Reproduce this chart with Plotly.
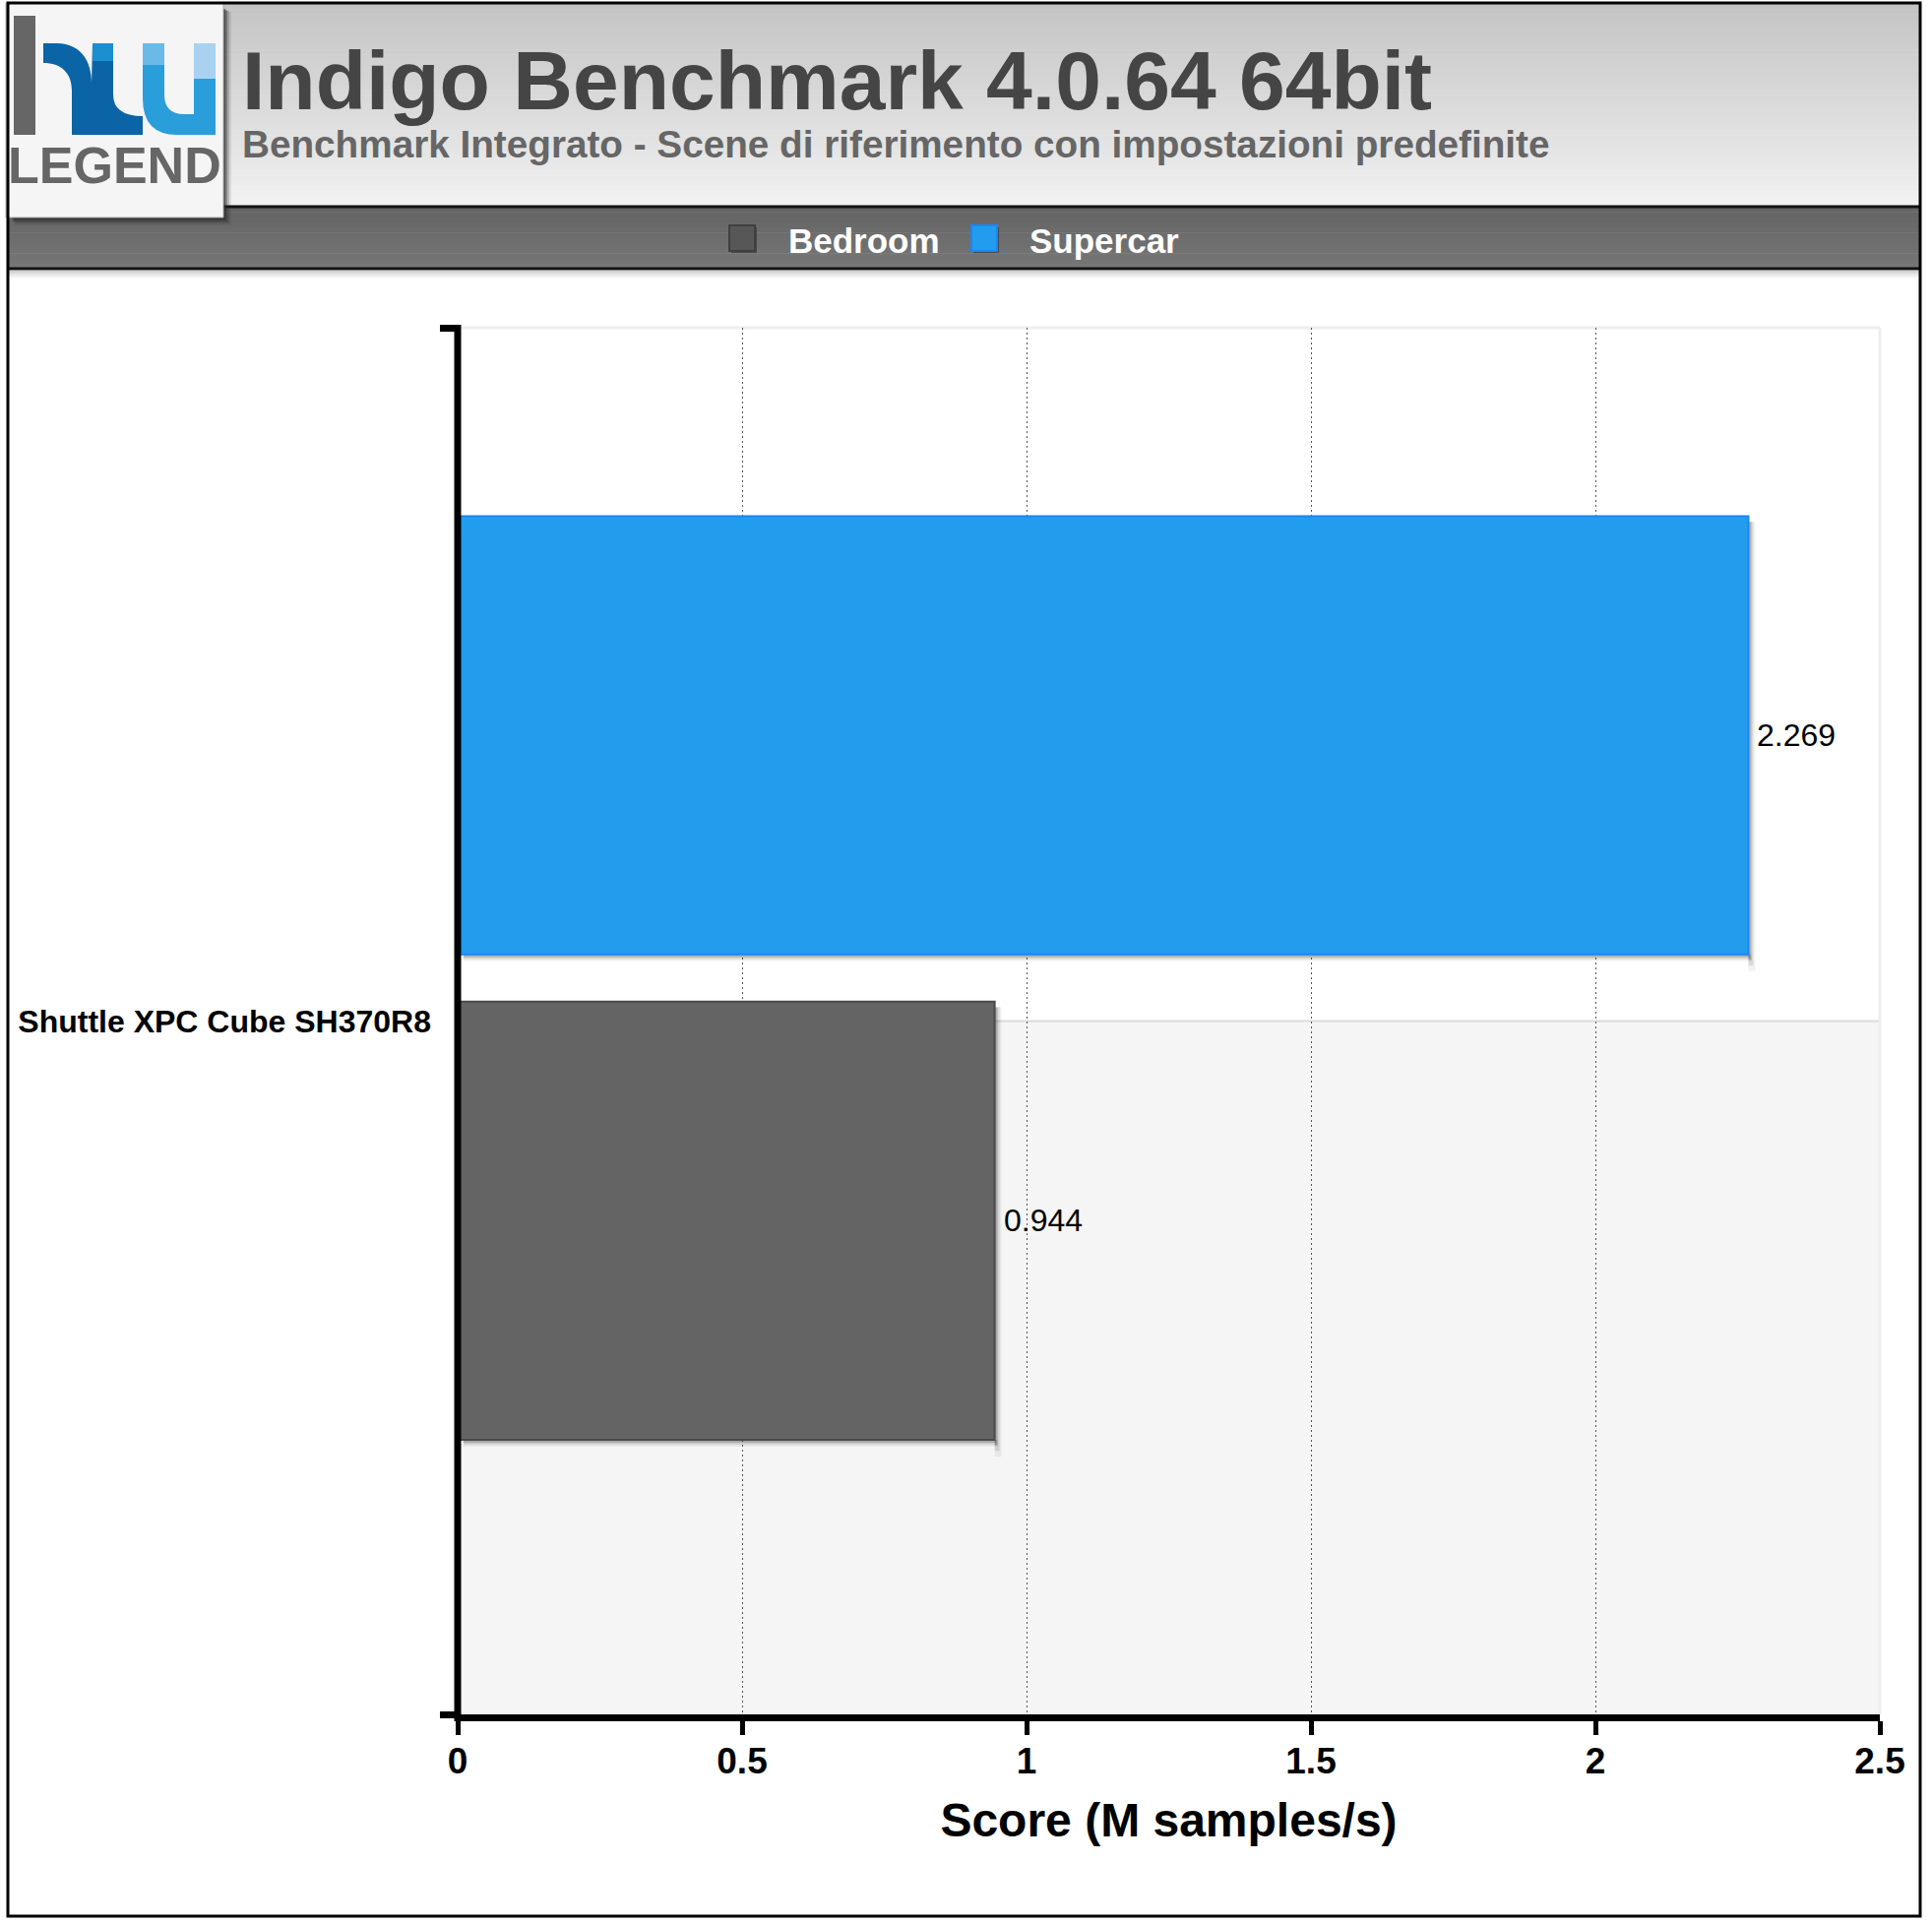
import plotly.graph_objects as go

# ---------------- data ----------------
CATEGORIES = ["Shuttle XPC Cube SH370R8"]
SERIES = ["Bedroom", "Supercar"]
BEDROOM = [0.944]
SUPERCAR = [2.269]
X_TICKS = [0, 0.5, 1, 1.5, 2, 2.5]
X_TICK_LABELS = ["0", "0.5", "1", "1.5", "2", "2.5"]
TITLE = "Indigo Benchmark 4.0.64 64bit"
SUBTITLE = "Benchmark Integrato - Scene di riferimento con impostazioni predefinite"
X_TITLE = "Score (M samples/s)"

# ---------------- style ----------------
FONT = "Liberation Sans, Arial, Helvetica, sans-serif"
FILL = {"Bedroom": "#646464", "Supercar": "#229dee"}
EDGE = {"Bedroom": "#4a4a4a", "Supercar": "#1a86f5"}
OFFSET = {"Bedroom": -0.302, "Supercar": 0.048}
BAR_W = 0.316

W_FIG, H_FIG = 1963, 1955
L, R, T, B = 465, 1910, 333, 1742
PW, PH = R - L, B - T


def px(x):
    return (x - L) / PW


def py(y):
    return (B - y) / PH


shapes = []


def rect(x0, y0, x1, y1, fill, line_color=None, line_width=0, layer="above"):
    shapes.append(dict(
        type="rect", xref="paper", yref="paper",
        x0=px(x0), x1=px(x1), y0=py(y1), y1=py(y0),
        fillcolor=fill, layer=layer,
        line=dict(color=line_color or fill, width=line_width),
    ))


def hline(x0, x1, y, color, width, layer="above"):
    shapes.append(dict(type="line", xref="paper", yref="paper",
                       x0=px(x0), x1=px(x1), y0=py(y), y1=py(y), layer=layer,
                       line=dict(color=color, width=width)))


def vline(x, y0, y1, color, width, layer="above"):
    shapes.append(dict(type="line", xref="paper", yref="paper",
                       x0=px(x), x1=px(x), y0=py(y0), y1=py(y1), layer=layer,
                       line=dict(color=color, width=width)))


def path(cmds, fill):
    out = []
    for c in cmds:
        if isinstance(c, str):
            out.append(c)
        else:
            out.append(f"{px(c[0]):.5f},{py(c[1]):.5f}")
    shapes.append(dict(type="path", xref="paper", yref="paper",
                       path=" ".join(out), fillcolor=fill, layer="above",
                       line=dict(width=0)))


# ---- plot-area background bands ----
rect(L, (T + B) / 2, R, B, "#f5f5f5", layer="below")
hline(L, R, (T + B) / 2, "#dcdcdc", 2, layer="below")
hline(L, R, T, "#eeeeee", 3, layer="below")
vline(R, T, B, "#eeeeee", 3, layer="between")

# ---- bar drop shadows (anchored on the data values) ----
values = {"Bedroom": BEDROOM, "Supercar": SUPERCAR}
for name in SERIES:
    for i, v in enumerate(values[name]):
        for k, a in enumerate([0.18, 0.10, 0.05]):
            shapes.append(dict(type="rect", xref="x", yref="y", layer="between",
                               xsizemode="pixel", xanchor=v, x0=0, x1=3 + 2 * k,
                               y0=i + OFFSET[name] - 0.004 * (k + 1), y1=i + OFFSET[name] + BAR_W - 0.004,
                               fillcolor="rgba(0,0,0,%.2f)" % a, line=dict(width=0)))
            shapes.append(dict(type="rect", xref="x", yref="y", layer="between",
                               ysizemode="pixel", yanchor=i + OFFSET[name], y0=-(3 + 2 * k), y1=0,
                               x0=0.01, x1=v + 0.002 * (k + 1),
                               fillcolor="rgba(0,0,0,%.2f)" % a, line=dict(width=0)))

# ---- header gradient ----
top_y, bot_y = 4, 209
n = 40
c0, c1 = (196, 196, 196), (241, 241, 241)
for i in range(n):
    f = i / (n - 1)
    col = tuple(int(round(a + (b - a) * f)) for a, b in zip(c0, c1))
    y0 = top_y + (bot_y - top_y) * i / n
    y1 = top_y + (bot_y - top_y) * (i + 1) / n + 0.6
    rect(8, y0, 1951, y1, "rgb(%d,%d,%d)" % col)

# ---- legend band ----
lb0, lb1 = 210, 273
m = 12
d0, d1 = (100, 100, 100), (118, 118, 118)
for i in range(m):
    f = i / (m - 1)
    col = tuple(int(round(a + (b - a) * f)) for a, b in zip(d0, d1))
    y0 = lb0 + (lb1 - lb0) * i / m
    y1 = lb0 + (lb1 - lb0) * (i + 1) / m + 0.6
    rect(8, y0, 1951, y1, "rgb(%d,%d,%d)" % col)
hline(8, 1951, 210, "#111111", 3)
hline(8, 1951, 273, "#111111", 3)
for k, a in enumerate([0.18, 0.12, 0.07, 0.03]):
    hline(8, 1951, 276 + k * 2, "rgba(0,0,0,%.2f)" % a, 2)

# ---- logo ----
for k, a in enumerate([0.55, 0.35, 0.2, 0.1]):
    rect(12 + k, 9 + k, 229 + 2 * k, 223 + 2 * k, "rgba(40,40,40,%.2f)" % a)
rect(6, 3, 227, 221, "#f5f5f5", "#aaaaaa", 1)
rect(14, 16, 36, 137, "#666666")
path(["M", (44, 44), "L", (58, 44), "C", (80, 44), (93, 60), (93, 84), "L", (94, 44),
      "L", (115, 44), "L", (115, 96), "Q", (115, 118), (145, 118),
      "L", (145, 137), "L", (73, 137), "L", (73, 92), "C", (73, 74), (62, 64), (44, 64), "Z"],
     "#0b64a6")
rect(94, 44, 115, 62, "#1b8fcf")
path(["M", (145, 44), "L", (167, 44), "L", (167, 96), "Q", (167, 116), (187, 116),
      "L", (197, 116), "L", (197, 44), "L", (219, 44), "L", (219, 137),
      "L", (180, 137), "Q", (145, 137), (145, 100), "Z"],
     "#2a9edb")
rect(145, 44, 167, 66, "#6bb9e6")
rect(197, 44, 219, 80, "#a9d2f0")

# ---- outer frame ----
shapes.append(dict(type="rect", xref="paper", yref="paper",
                   x0=px(8), x1=px(1951), y0=py(1947), y1=py(3),
                   fillcolor="rgba(0,0,0,0)", layer="above",
                   line=dict(color="#000000", width=3)))

# ---- y axis line (drawn at x = 0) ----
vline(L, 330, 1749, "#000000", 7)

annotations = []


def text(x, y, s, size, color, bold=True, anchor="left", family=FONT):
    annotations.append(dict(
        xref="paper", yref="paper", x=px(x), y=py(y), text=("<b>%s</b>" % s) if bold else s,
        showarrow=False, xanchor=anchor, yanchor="middle",
        font=dict(family=family, size=size, color=color),
    ))


text(116, 168, "LEGEND", 52, "#666666", anchor="center")
text(244, 82, TITLE, 84, "#454545")
text(244, 147, SUBTITLE, 38.7, "#666666")

# ---- legend (large swatches, one per series) ----
legend_pos = {"Bedroom": (741, 799), "Supercar": (987, 1044)}
swatch_fill = {"Bedroom": "#575757", "Supercar": FILL["Supercar"]}
swatch_edge = {"Bedroom": "#404040", "Supercar": EDGE["Supercar"]}
for name in SERIES:
    sx, tx = legend_pos[name]
    rect(sx + 2, 231, sx + 28, 257, "rgba(0,0,0,0.35)")
    rect(sx, 229, sx + 26, 255, swatch_fill[name], swatch_edge[name], 2)
    text(tx, 245, name, 35, "#ffffff")

# ---- value labels next to the bars ----
for name in SERIES:
    for i, v in enumerate(values[name]):
        annotations.append(dict(
            xref="x", yref="y", x=v, y=i + OFFSET[name] + BAR_W / 2,
            text="%.3f" % v, showarrow=False, xanchor="left", yanchor="middle",
            xshift=7, font=dict(family=FONT, size=32, color="#000000"),
        ))

# ---------------- traces ----------------
fig = go.Figure()
for name in SERIES:
    fig.add_trace(go.Bar(
        name=name, y=CATEGORIES, x=values[name], orientation="h",
        offset=OFFSET[name], width=BAR_W,
        marker=dict(color=FILL[name], line=dict(color=EDGE[name], width=2)),
        textposition="none", showlegend=False,
    ))

fig.update_layout(
    width=W_FIG, height=H_FIG,
    margin=dict(l=L, r=W_FIG - R, t=T, b=H_FIG - B, pad=0),
    paper_bgcolor="#ffffff", plot_bgcolor="#ffffff",
    barmode="overlay",
    showlegend=False,
    shapes=shapes, annotations=annotations,
    font=dict(family=FONT, color="#000000"),
    xaxis=dict(
        range=[0, 2.5], tickvals=X_TICKS, ticktext=["<b>%s</b>" % t for t in X_TICK_LABELS],
        tickfont=dict(family=FONT, size=37, color="#000000"),
        showline=True, linewidth=7, linecolor="#000000",
        ticks="outside", ticklen=14, tickwidth=5, tickcolor="#000000",
        showgrid=True, gridcolor="#555555", gridwidth=1, griddash="2px,3px",
        zeroline=False, ticklabelstandoff=-5,
        title=dict(text="<b>%s</b>" % X_TITLE, font=dict(family=FONT, size=48, color="#000000"),
                   standoff=26),
    ),
    yaxis=dict(
        type="category", categoryorder="array", categoryarray=CATEGORIES,
        range=[-0.5, 0.5], tickson="boundaries",
        ticks="outside", ticklen=17, tickwidth=7, tickcolor="#000000",
        showline=False, showgrid=False, zeroline=False,
        tickfont=dict(family=FONT, size=32, color="#000000"),
        ticktext=["<b>%s</b>" % c for c in CATEGORIES], tickvals=CATEGORIES,
        ticklabelstandoff=26,
    ),
)

fig.write_html("out.html", config={"displayModeBar": False},
               post_script="document.body.style.margin='0px';document.body.style.overflow='hidden';")
